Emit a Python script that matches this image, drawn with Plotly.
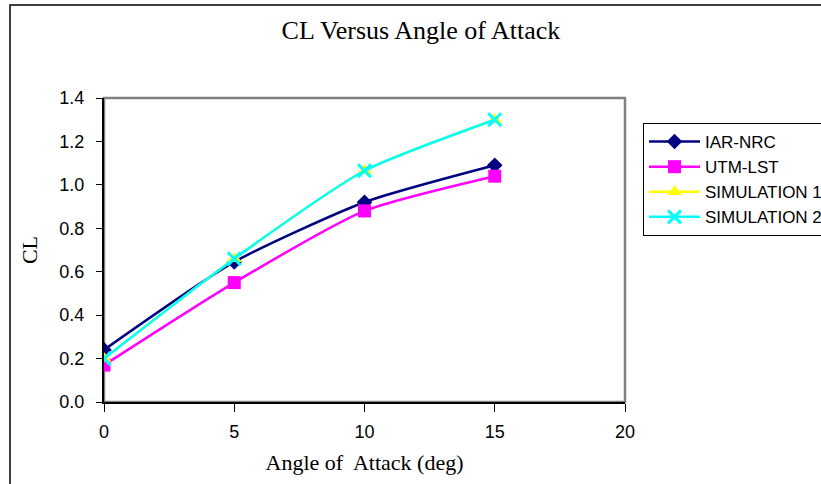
import plotly.graph_objects as go

angle = [0, 5, 10, 15]
iar_nrc = [0.24, 0.645, 0.92, 1.09]
utm_lst = [0.17, 0.55, 0.88, 1.04]
sim1 = [0.20, 0.66, 1.065, 1.30]
sim2 = [0.20, 0.66, 1.065, 1.30]

W, H = 821, 484
L, R, T, B = 104, 196, 98, 82
pw, ph = W - L - R, H - T - B

fig = go.Figure()
series = [
    ("IAR-NRC", iar_nrc, "#000080", dict(symbol="diamond", size=12, color="#000080")),
    ("UTM-LST", utm_lst, "#FF00FF", dict(symbol="square", size=13, color="#FF00FF")),
    ("SIMULATION 1", sim1, "#FFFF00", dict(symbol="triangle-up", size=13, color="#FFFF00")),
    ("SIMULATION 2", sim2, "#00FFFF", dict(symbol="x-thin", size=13, color="#00FFFF",
                                           line=dict(width=3, color="#00FFFF"))),
]
for name, y, c, m in series:
    fig.add_trace(go.Scatter(x=angle, y=y, name=name, mode="lines+markers",
                             line=dict(color=c, width=2.5, shape="spline", smoothing=0.6),
                             marker=m))

serif = "Liberation Serif, Times New Roman, serif"
sans = "Liberation Sans, Arial, sans-serif"

fig.update_layout(
    width=W, height=H,
    margin=dict(l=L, r=R, t=T, b=B, autoexpand=False),
    paper_bgcolor="white", plot_bgcolor="white",
    title=dict(text="CL Versus Angle of Attack", x=(421 - L) / pw, xref="paper",
               xanchor="center", y=1 - 30 / H, yanchor="middle",
               font=dict(family=serif, size=26, color="black")),
    xaxis=dict(range=[0, 20], tickvals=[0, 5, 10, 15, 20], showgrid=False, zeroline=False,
               showline=True, linecolor="black", linewidth=2, ticks="outside", ticklen=8,
               tickcolor="black", ticklabelstandoff=4,
               tickfont=dict(family=sans, size=18, color="black"),
               title=dict(text="Angle of  Attack (deg)", standoff=14,
                          font=dict(family=serif, size=22, color="black"))),
    yaxis=dict(range=[0, 1.4], tickvals=[0, 0.2, 0.4, 0.6, 0.8, 1.0, 1.2, 1.4], tickformat=".1f",
               showgrid=False, zeroline=False, showline=True, linecolor="black", linewidth=2,
               ticks="outside", ticklen=6, tickcolor="black", ticklabelstandoff=8,
               tickfont=dict(family=sans, size=18, color="black"),
               title=dict(text="CL", standoff=16,
                          font=dict(family=serif, size=22, color="black"))),
    legend=dict(x=(643 - L) / pw, xanchor="left", y=(H - B - 123) / ph, yanchor="top",
                bordercolor="black", borderwidth=1, bgcolor="white",
                font=dict(family=sans, size=17, color="black"),
                tracegroupgap=0, itemwidth=51),
    showlegend=True,
)

fig.add_shape(type="rect", xref="paper", yref="paper", x0=0, x1=1, y0=0, y1=1,
              line=dict(color="#808080", width=2.5), layer="below")
fig.add_shape(type="rect", xref="paper", yref="paper",
              x0=(10 - L) / pw, x1=(W + 20 - L) / pw,
              y0=(H - B - (H + 20)) / ph, y1=(H - B - 5) / ph,
              line=dict(color="black", width=1.5), layer="below")

fig.write_html("out.html")
